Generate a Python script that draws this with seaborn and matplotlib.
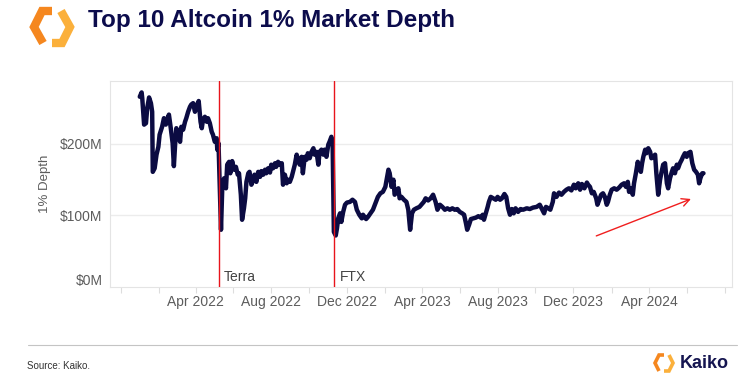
import numpy as np
import pandas as pd
import matplotlib
matplotlib.use("Agg")
import matplotlib.pyplot as plt
import matplotlib.dates as mdates
import matplotlib.transforms as mtransforms
from matplotlib.lines import Line2D
import seaborn as sns

# ---------------- data ----------------
start_date = "2022-01-01"
day_offsets = [
    0, 3, 4, 7, 10, 12, 15, 18, 20, 21, 24, 27, 30, 32, 36, 39, 42, 44, 47, 50,
    53, 55, 57, 59, 62, 65, 67, 70, 73, 75, 78, 81, 83, 86, 89, 91, 95, 98, 100, 102,
    105, 108, 110, 113, 116, 118, 121, 124, 125, 127, 129, 131, 133, 136, 139, 141, 144, 146, 149, 152,
    155, 158, 160, 163, 165, 168, 170, 172, 175, 177, 180, 183, 185, 188, 191, 194, 196, 199, 202, 204,
    207, 210, 212, 215, 218, 220, 223, 226, 229, 231, 234, 237, 239, 242, 245, 247, 250, 253, 255, 258,
    261, 263, 266, 269, 271, 274, 277, 280, 282, 285, 288, 290, 293, 296, 298, 301, 304, 306, 309, 311,
    313, 316, 318, 320, 323, 325, 328, 331, 334, 339, 343, 347, 350, 354, 358, 360, 365, 368, 372, 376,
    380, 384, 388, 392, 396, 399, 401, 403, 406, 409, 411, 414, 417, 419, 422, 426, 430, 433, 436, 439,
    442, 446, 451, 454, 458, 461, 465, 469, 473, 477, 480, 484, 488, 492, 496, 500, 504, 508, 512, 516,
    520, 523, 526, 528, 531, 534, 538, 542, 546, 550, 553, 555, 558, 561, 563, 566, 570, 574, 577, 581,
    584, 588, 591, 594, 597, 600, 603, 606, 610, 614, 618, 624, 629, 634, 640, 645, 648, 652, 655, 659,
    662, 666, 668, 672, 676, 680, 684, 688, 692, 696, 700, 703, 707, 710, 713, 717, 721, 723, 726, 729,
    732, 736, 738, 741, 744, 747, 750, 753, 755, 758, 761, 765, 769, 773, 777, 781, 784, 787, 789, 792,
    795, 797, 800, 803, 805, 808, 810, 812, 815, 817, 820, 823, 825, 828, 831, 833, 836, 839, 841, 844,
    847, 850, 852, 855, 858, 860, 863, 866, 868, 871, 874, 876, 879, 882, 884, 888, 891, 894, 897, 900,
    902, 904, 907, 909,
]
depth_musd = [
    266, 272, 264, 227, 229, 250, 265, 257, 245, 161, 166, 185, 196, 213, 224, 236, 227, 234, 241, 222,
    201, 169, 199, 222, 215, 203, 224, 220, 231, 236, 245, 252, 255, 257, 245, 252, 260, 231, 222, 234,
    238, 231, 236, 229, 217, 213, 203, 208, 192, 201, 143, 80, 138, 152, 138, 171, 175, 159, 176, 164,
    168, 157, 159, 129, 94, 110, 124, 147, 159, 161, 143, 150, 157, 147, 161, 154, 162, 157, 164, 159,
    166, 160, 171, 166, 173, 168, 175, 171, 173, 143, 157, 145, 150, 147, 154, 161, 171, 185, 178, 171,
    182, 159, 182, 178, 187, 180, 189, 194, 185, 189, 171, 189, 192, 185, 192, 182, 199, 203, 210, 199,
    77, 72, 82, 96, 103, 91, 105, 115, 118, 119, 122, 119, 108, 101, 96, 101, 95, 98, 103, 108,
    117, 126, 131, 133, 140, 154, 164, 159, 140, 150, 129, 133, 138, 124, 126, 122, 119, 108, 80, 103,
    108, 110, 112, 115, 119, 124, 121, 124, 129, 119, 108, 115, 112, 108, 110, 108, 110, 108, 109, 105,
    103, 101, 89, 80, 87, 95, 96, 97, 99, 97, 101, 94, 103, 112, 119, 126, 124, 122, 126, 122,
    124, 130, 126, 110, 101, 109, 103, 110, 105, 109, 108, 110, 109, 111, 112, 115, 110, 103, 112, 110,
    108, 119, 131, 126, 132, 129, 133, 136, 138, 135, 143, 138, 145, 136, 144, 138, 146, 143, 140, 131,
    133, 124, 115, 122, 129, 131, 126, 115, 119, 129, 136, 138, 136, 139, 143, 145, 140, 147, 133, 138,
    129, 145, 159, 175, 168, 161, 173, 182, 192, 187, 194, 189, 180, 182, 185, 159, 129, 150, 159, 171,
    173, 145, 138, 152, 161, 166, 159, 171, 166, 173, 178, 182, 187, 182, 187, 189, 173, 164, 161, 157,
    145, 152, 159, 159,
]
events = ["Terra", "FTX"]
event_dates = ["2022-05-08", "2022-11-11"]
y_ticks = [0, 100, 200]
y_tick_labels = ["$0M", "$100M", "$200M"]
x_tick_dates = ["2022-04-01", "2022-08-01", "2022-12-01", "2023-04-01",
                "2023-08-01", "2023-12-01", "2024-04-01"]
x_tick_labels = ["Apr 2022", "Aug 2022", "Dec 2022", "Apr 2023",
                 "Aug 2023", "Dec 2023", "Apr 2024"]
arrow_start = ("2024-01-03", 70)
arrow_end = ("2024-06-12", 124.5)

df = pd.DataFrame({
    "date": pd.to_datetime(start_date) + pd.to_timedelta(day_offsets, unit="D"),
    "depth": depth_musd,
})

# ---------------- style ----------------
sns.set_theme(style="white")
plt.rcParams["font.family"] = ["Liberation Sans", "DejaVu Sans"]

NAVY = "#0b0b42"
GRID = "#ececec"
TXT = "#5c5c5c"

fig = plt.figure(figsize=(7.49, 3.84), dpi=100)
W, H = 749, 384
ax = fig.add_axes([110 / W, 1 - 287 / H, (732 - 110) / W, (287 - 81) / H])

sns.lineplot(data=df, x="date", y="depth", ax=ax, color=NAVY, linewidth=3.2,
             solid_joinstyle="round", solid_capstyle="round")

ax.set_xlim(pd.Timestamp("2021-11-14"), pd.Timestamp("2024-08-13"))
ax.set_ylim(0, 288)

ax.set_yticks(y_ticks)
ax.set_yticklabels(y_tick_labels)
ax.set_xticks(pd.to_datetime(x_tick_dates))
ax.set_xticklabels(x_tick_labels)
ax.xaxis.set_minor_locator(mdates.MonthLocator(bymonth=[2, 6, 10, 12, 4, 8]))
ax.tick_params(axis="x", which="both", bottom=True, length=4, width=0.8,
               color="#dddddd", labelsize=10, labelcolor=TXT, pad=1.5)
ax.tick_params(axis="y", which="both", left=False, length=0, labelsize=10,
               labelcolor=TXT, pad=5.5)
ax.set_xlabel("")
ax.set_ylabel("1% Depth", fontsize=9.5, color=TXT, labelpad=6)

for y in y_ticks[1:]:
    ax.axhline(y, color=GRID, lw=1, zorder=0)
for s in ax.spines.values():
    s.set_visible(True)
    s.set_color("#e4e4e4")
    s.set_linewidth(0.8)

# nudge $0M label up a bit like the original
lbl0 = ax.get_yticklabels()[0]
lbl0.set_transform(lbl0.get_transform() + mtransforms.ScaledTranslation(0, 8 / 100, fig.dpi_scale_trans))

# event lines
for name, d in zip(events, event_dates):
    dt = pd.Timestamp(d)
    ax.axvline(dt, color="#e8141b", lw=1.0, zorder=3)
    ax.annotate(name, xy=(dt, 14), xytext=(4, 0), textcoords="offset points",
                fontsize=10, color="#444444", va="center", ha="left")

# trend arrow
ax.annotate("", xy=(pd.Timestamp(arrow_end[0]), arrow_end[1]),
            xytext=(pd.Timestamp(arrow_start[0]), arrow_start[1]),
            arrowprops=dict(arrowstyle="->", color="#f01e1e", lw=1.0,
                            mutation_scale=14))

# ---------------- header / footer ----------------
def px(x, y):
    return (x / W, 1 - y / H)

# logo top-left
left_piece = [(52, 11), (42, 11), (34, 27), (43, 43)]
right_piece = [(52, 43), (62, 43), (70, 27), (61, 11)]
for pts, col in ((left_piece, "#f5871f"), (right_piece, "#fbb03b")):
    xs = [p[0] / W for p in pts]
    ys = [1 - p[1] / H for p in pts]
    fig.add_artist(Line2D(xs, ys, transform=fig.transFigure, color=col, lw=6,
                          solid_joinstyle="miter", solid_capstyle="butt"))

fig.text(*px(88, 21), "Top 10 Altcoin 1% Market Depth", fontsize=17.5,
         fontweight="bold", color="#0c0c4c", va="center", ha="left")

# footer rule
fig.add_artist(Line2D([28 / W, 737 / W], [1 - 345 / H] * 2, transform=fig.transFigure,
                      color="#c4c4c4", lw=0.8))
fig.text(*px(27, 366), "Source: Kaiko.", fontsize=7, color="#333333", va="center", ha="left")

# Kaiko logo bottom-right
sl = [(664, 355), (659, 355), (655, 363), (659, 371)]
sr = [(664, 371), (669, 371), (673, 363), (669, 355)]
for pts, col in ((sl, "#f5871f"), (sr, "#fbb03b")):
    xs = [p[0] / W for p in pts]
    ys = [1 - p[1] / H for p in pts]
    fig.add_artist(Line2D(xs, ys, transform=fig.transFigure, color=col, lw=2.6,
                          solid_joinstyle="miter", solid_capstyle="butt"))
fig.text(*px(680, 363), "Kaiko", fontsize=13, fontweight="bold", color="#151550",
         va="center", ha="left")

fig.savefig("out.png", dpi=100)
